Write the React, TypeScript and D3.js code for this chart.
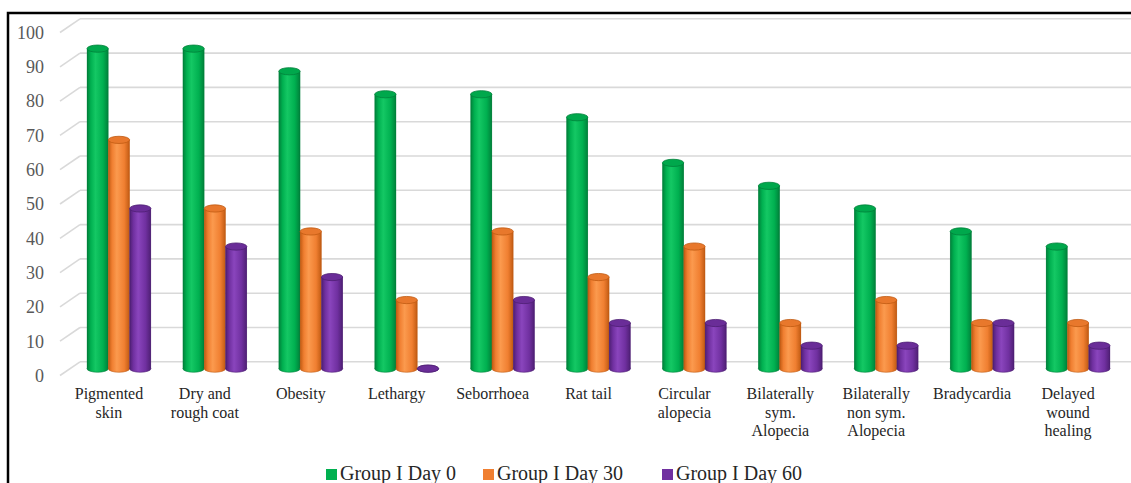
import React from "react";
import * as d3 from "d3";

const categories = [
  "Pigmented skin",
  "Dry and rough coat",
  "Obesity",
  "Lethargy",
  "Seborrhoea",
  "Rat tail",
  "Circular alopecia",
  "Bilaterally sym. Alopecia",
  "Bilaterally non sym. Alopecia",
  "Bradycardia",
  "Delayed wound healing",
];
const categoryLines = [
  ["Pigmented", "skin"],
  ["Dry and", "rough coat"],
  ["Obesity"],
  ["Lethargy"],
  ["Seborrhoea"],
  ["Rat tail"],
  ["Circular", "alopecia"],
  ["Bilaterally", "sym.", "Alopecia"],
  ["Bilaterally", "non sym.", "Alopecia"],
  ["Bradycardia"],
  ["Delayed", "wound", "healing"],
];
const seriesNames = ["Group I Day 0", "Group I Day 30", "Group I Day 60"];
const day0 = [93.3, 93.3, 86.7, 80, 80, 73.3, 60, 53.3, 46.7, 40, 35.6];
const day30 = [66.7, 46.7, 40, 20, 40, 26.7, 35.6, 13.3, 20, 13.3, 13.3];
const day60 = [46.7, 35.6, 26.7, 0, 20, 13.3, 13.3, 6.7, 6.7, 13.3, 6.7];
const seriesValues = [day0, day30, day60];
const yTicks = [0, 10, 20, 30, 40, 50, 60, 70, 80, 90, 100];

const colors = [
  { base: "#00b050", light: "#14c864", dark: "#00803a", top: "#00a84c" },
  { base: "#f07f31", light: "#fb9a4e", dark: "#c05a12", top: "#e8782c" },
  { base: "#7030a0", light: "#8a45bd", dark: "#4e1f73", top: "#6a2d98" },
];

const W = 1131;
const H = 483;
const DX = 20;
const DY = -13.7;
const legendX = [326, 483, 662];

export default function App() {
  const y = d3.scaleLinear().domain([0, 100]).range([375.5, 32.5]);
  const x = d3.scaleBand().domain(categories).range([61, 1116]).padding(0);
  const bw = x.bandwidth();
  const w = bw / 4.5;
  const xs = d3
    .scaleBand()
    .domain(seriesNames)
    .range([0.75 * w, 3.75 * w])
    .padding(0);
  const ry = 3.6;
  const midDx = DX / 2;
  const midDy = DY / 2;

  return (
    <svg
      width={W}
      height={H}
      style={{ position: "absolute", left: 0, top: 0, background: "#fff" }}
      fontFamily="'Liberation Serif', 'Times New Roman', serif"
    >
      <defs>
        {colors.map((c, i) => (
          <linearGradient key={i} id={`g${i}`} x1="0" x2="1" y1="0" y2="0">
            <stop offset="0" stopColor={c.dark} />
            <stop offset="0.18" stopColor={c.base} />
            <stop offset="0.4" stopColor={c.light} />
            <stop offset="0.75" stopColor={c.base} />
            <stop offset="1" stopColor={c.dark} />
          </linearGradient>
        ))}
      </defs>
      <rect x={0} y={0} width={W} height={H} fill="#fff" />
      <rect
        x={8}
        y={13}
        width={W + 20}
        height={H + 20}
        fill="#fff"
        stroke="#000"
        strokeWidth={2.5}
      />
      {/* gridlines: side diagonals + back wall */}
      {yTicks.map((t) => (
        <g key={t} stroke="#d9d9d9" strokeWidth={1.6} fill="none">
          <line x1={60} y1={y(t)} x2={60 + DX} y2={y(t) + DY} />
          <line x1={60 + DX} y1={y(t) + DY} x2={W} y2={y(t) + DY} />
        </g>
      ))}
      {/* y tick labels */}
      {yTicks.map((t) => (
        <text
          key={`l${t}`}
          x={44}
          y={y(t)}
          dy="0.35em"
          textAnchor="end"
          fontSize={18}
          fill="#595959"
        >
          {t}
        </text>
      ))}
      {/* bars */}
      {categories.map((cat, ci) => (
        <g key={cat}>
          {seriesNames.map((s, si) => {
            const v = seriesValues[si][ci];
            const bx = (x(cat) as number) + (xs(s) as number) + midDx;
            const base = y(0) + midDy;
            const top = y(v) + midDy;
            const c = colors[si];
            const cx = bx + w / 2;
            return (
              <g key={s}>
                <ellipse
                  cx={cx}
                  cy={base}
                  rx={w / 2}
                  ry={ry}
                  fill={`url(#g${si})`}
                  stroke={c.dark}
                  strokeWidth={0.6}
                />
                {v > 0 && (
                  <rect
                    x={bx}
                    y={top}
                    width={w}
                    height={base - top}
                    fill={`url(#g${si})`}
                  />
                )}
                {v > 0 && (
                  <line
                    x1={bx + 0.3}
                    x2={bx + 0.3}
                    y1={top}
                    y2={base}
                    stroke={c.dark}
                    strokeWidth={0.6}
                  />
                )}
                {v > 0 && (
                  <line
                    x1={bx + w - 0.3}
                    x2={bx + w - 0.3}
                    y1={top}
                    y2={base}
                    stroke={c.dark}
                    strokeWidth={0.6}
                  />
                )}
                <ellipse
                  cx={cx}
                  cy={top}
                  rx={w / 2}
                  ry={ry}
                  fill={c.top}
                  stroke={c.dark}
                  strokeWidth={0.8}
                />
              </g>
            );
          })}
        </g>
      ))}
      {/* category labels */}
      {categories.map((cat, ci) => (
        <text
          key={`c${cat}`}
          x={(x(cat) as number) + bw / 2}
          y={399}
          textAnchor="middle"
          fontSize={16}
          fill="#262626"
        >
          {categoryLines[ci].map((ln, li) => (
            <tspan key={li} x={(x(cat) as number) + bw / 2} y={399 + li * 18.5}>
              {ln}
            </tspan>
          ))}
        </text>
      ))}
      {/* legend */}
      {seriesNames.map((s, si) => (
        <g key={`lg${s}`}>
          <rect x={legendX[si]} y={469} width={11} height={11} fill={colors[si].base} />
          <text x={legendX[si] + 14} y={479.5} fontSize={20} fill="#262626">
            {s}
          </text>
        </g>
      ))}
    </svg>
  );
}
